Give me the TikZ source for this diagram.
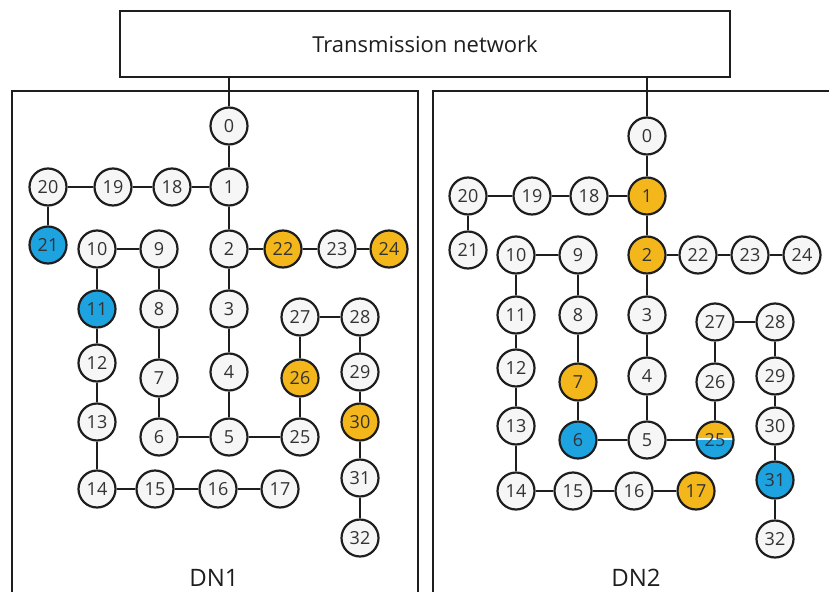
\documentclass[tikz,border=0pt]{standalone}
\usepackage{fontspec}
\setmainfont{Open Sans}
\definecolor{busfill}{HTML}{F6F6F6}
\definecolor{busline}{HTML}{1E1E1E}
\definecolor{bustext}{HTML}{333333}
\definecolor{orgc}{HTML}{F4B71B}
\definecolor{bluc}{HTML}{1DA3E0}
\begin{document}
\begin{tikzpicture}[x=1pt,y=-1pt,
  bus/.style={circle,draw=busline,line width=2.2pt,fill=busfill,minimum size=37pt,
    inner sep=0pt,text=bustext,font=\fontsize{18}{18}\selectfont},
  hot/.style={bus,fill=orgc},
  cold/.style={bus,fill=bluc},
  split/.style={bus,path picture={
      \fill[bluc] (path picture bounding box.south west) rectangle (path picture bounding box.east);
      \fill[orgc] (path picture bounding box.north west) rectangle ([yshift=2pt]path picture bounding box.east);
      \fill[white] ([yshift=0.6pt]path picture bounding box.west) rectangle ([yshift=2pt]path picture bounding box.east);}},
  link/.style={draw=busline,line width=2.2pt},
  frame/.style={draw=busline,line width=2.1pt},
  title/.style={text=busline,font=\fontsize{24}{24}\selectfont,anchor=base}]

\useasboundingbox (0,0) rectangle (829,591);

% transmission network
\node[frame,minimum width=610pt,minimum height=66pt,inner sep=0pt,fill=white,
  text=busline,font=\fontsize{22}{22}\selectfont] (tn) at (425,44) {Transmission network};

% distribution network frames (open at the bottom and right)
\begin{scope}
  \clip (0,0) rectangle (829,591);
  \draw[frame] (12,620) -- (12,91) -- (418,91) -- (418,620);
  \draw[frame] (433,620) -- (433,91) -- (860,91);
\end{scope}

% ---------- DN1 ----------
\node[bus]  (a0)  at (229,126) {0};
\node[bus]  (a1)  at (229,187) {1};
\node[bus]  (a18) at (172,187) {18};
\node[bus]  (a19) at (113,187) {19};
\node[bus]  (a20) at (48,187)  {20};
\node[cold] (a21) at (48,245)  {21};
\node[bus]  (a2)  at (229,249) {2};
\node[hot]  (a22) at (283,249) {22};
\node[bus]  (a23) at (337,249) {23};
\node[hot]  (a24) at (389,249) {24};
\node[bus]  (a10) at (97,249)  {10};
\node[bus]  (a9)  at (159,249) {9};
\node[cold] (a11) at (97,309)  {11};
\node[bus]  (a8)  at (159,309) {8};
\node[bus]  (a3)  at (229,309) {3};
\node[bus]  (a27) at (300,317) {27};
\node[bus]  (a28) at (360,317) {28};
\node[bus]  (a12) at (97,363)  {12};
\node[bus]  (a7)  at (159,378) {7};
\node[bus]  (a4)  at (229,372) {4};
\node[hot]  (a26) at (300,378) {26};
\node[bus]  (a29) at (360,372) {29};
\node[bus]  (a13) at (97,422)  {13};
\node[bus]  (a6)  at (159,437) {6};
\node[bus]  (a5)  at (229,437) {5};
\node[bus]  (a25) at (300,437) {25};
\node[hot]  (a30) at (360,422) {30};
\node[bus]  (a14) at (97,489)  {14};
\node[bus]  (a15) at (155,489) {15};
\node[bus]  (a16) at (218,489) {16};
\node[bus]  (a17) at (280,489) {17};
\node[bus]  (a31) at (360,478) {31};
\node[bus]  (a32) at (360,538) {32};
\node[title] (l1) at (214,586) {DN1};

% ---------- DN2 ----------
\node[bus]  (b0)  at (647,136) {0};
\node[hot]  (b1)  at (647,196) {1};
\node[bus]  (b18) at (589,196) {18};
\node[bus]  (b19) at (532,196) {19};
\node[bus]  (b20) at (468,196) {20};
\node[bus]  (b21) at (468,250) {21};
\node[hot]  (b2)  at (647,255) {2};
\node[bus]  (b22) at (698,255) {22};
\node[bus]  (b23) at (750,255) {23};
\node[bus]  (b24) at (802,255) {24};
\node[bus]  (b10) at (516,255) {10};
\node[bus]  (b9)  at (578,255) {9};
\node[bus]  (b11) at (516,315) {11};
\node[bus]  (b8)  at (578,315) {8};
\node[bus]  (b3)  at (647,315) {3};
\node[bus]  (b27) at (715,322) {27};
\node[bus]  (b28) at (775,322) {28};
\node[bus]  (b12) at (516,368) {12};
\node[hot]  (b7)  at (578,382) {7};
\node[bus]  (b4)  at (647,376) {4};
\node[bus]  (b26) at (715,382) {26};
\node[bus]  (b29) at (775,376) {29};
\node[bus]  (b13) at (516,426) {13};
\node[cold] (b6)  at (578,440) {6};
\node[bus]  (b5)  at (647,440) {5};
\node[split] (b25) at (715,440) {25};
\node[bus]  (b30) at (775,426) {30};
\node[bus]  (b14) at (516,491) {14};
\node[bus]  (b15) at (573,491) {15};
\node[bus]  (b16) at (634,491) {16};
\node[hot]  (b17) at (696,491) {17};
\node[cold] (b31) at (775,480) {31};
\node[bus]  (b32) at (775,539) {32};
\node[title] (l2) at (636,586) {DN2};

% feeders and branches
\foreach \p in {a,b}{
  \draw[link] (tn.south -| \p0) -- (\p0);
  \foreach \u/\v in {0/1,1/18,18/19,19/20,20/21,1/2,2/22,22/23,23/24,2/3,3/4,4/5,
      5/6,6/7,7/8,8/9,9/10,10/11,11/12,12/13,13/14,14/15,15/16,16/17,
      5/25,25/26,26/27,27/28,28/29,29/30,30/31,31/32}
    \draw[link] (\p\u) -- (\p\v);
}
\end{tikzpicture}
\end{document}
